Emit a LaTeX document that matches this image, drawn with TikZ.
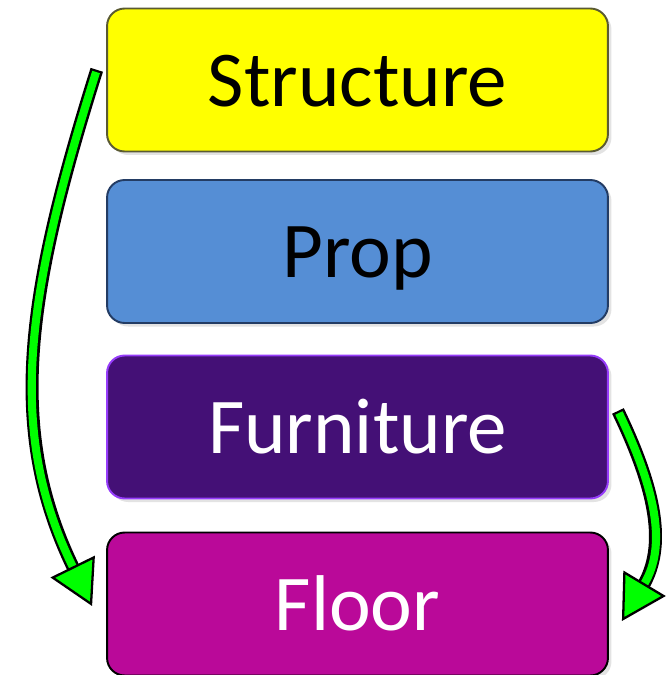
\documentclass[tikz,border=0pt]{standalone}
\usepackage{fontspec}
\setmainfont{Carlito}
\usetikzlibrary{arrows.meta,calc,shadows}
\definecolor{Lemon}{RGB}{255,255,0}
\definecolor{LemonEdge}{RGB}{90,90,50}
\definecolor{Sky}{RGB}{85,142,213}
\definecolor{SkyEdge}{RGB}{35,60,100}
\definecolor{Grape}{RGB}{68,16,118}
\definecolor{GrapeEdge}{RGB}{150,60,250}
\definecolor{Magenta}{RGB}{186,9,153}
\definecolor{Lime}{RGB}{0,255,0}
\tikzset{
  box/.style={draw,line width=1.1pt,rounded corners=10pt,minimum width=10.02cm,minimum height=2.86cm,align=center,font=\fontsize{45}{54}\selectfont,text height=30pt,text depth=0pt,drop shadow={opacity=.22,shadow xshift=2pt,shadow yshift=-2pt}},
  structbox/.style={box,draw=LemonEdge,fill=Lemon,text=black},
  propbox/.style={box,draw=SkyEdge,fill=Sky,text=black},
  furnbox/.style={box,draw=GrapeEdge,fill=Grape,text=white},
  floorbox/.style={box,draw=black,fill=Magenta,text=white},
  flow/.style={draw=Lime,line width=4.6pt,-{Triangle[length=.88cm,width=.98cm,color=black,fill=Lime,line width=1.3pt]},preaction={draw=black,line width=7.4pt,-,shorten >=.8cm,shorten <=-1.3pt}}
}
\begin{document}
\begin{tikzpicture}[x=.02cm,y=-.02cm]
  \useasboundingbox[fill=white] (0,0) rectangle (669,675);
  \node[structbox] (struct) at (357.5,80) {Structure};
  \node[propbox] (prop) at (357.5,251.5) {Prop};
  \node[furnbox] (furn) at (357.5,427) {Furniture};
  \node[floorbox] (floor) at (357.5,604) {Floor};
  % free ends of the two green arrows
  \coordinate (ltail) at ($(struct.west)+(-10,-8)$);
  \coordinate (ltip) at ($(floor.west)+(-14,2)$);
  \coordinate (rtail) at ($(furn.east)+(10,-14)$);
  \coordinate (rtip) at ($(floor.east)+(13,17)$);
  \draw[flow] (ltail) .. controls +(-72,228) and +(-85,-173) .. (ltip);
  \draw[flow] (rtail) .. controls +(37,77) and +(45,-75) .. (rtip);
\end{tikzpicture}
\end{document}
